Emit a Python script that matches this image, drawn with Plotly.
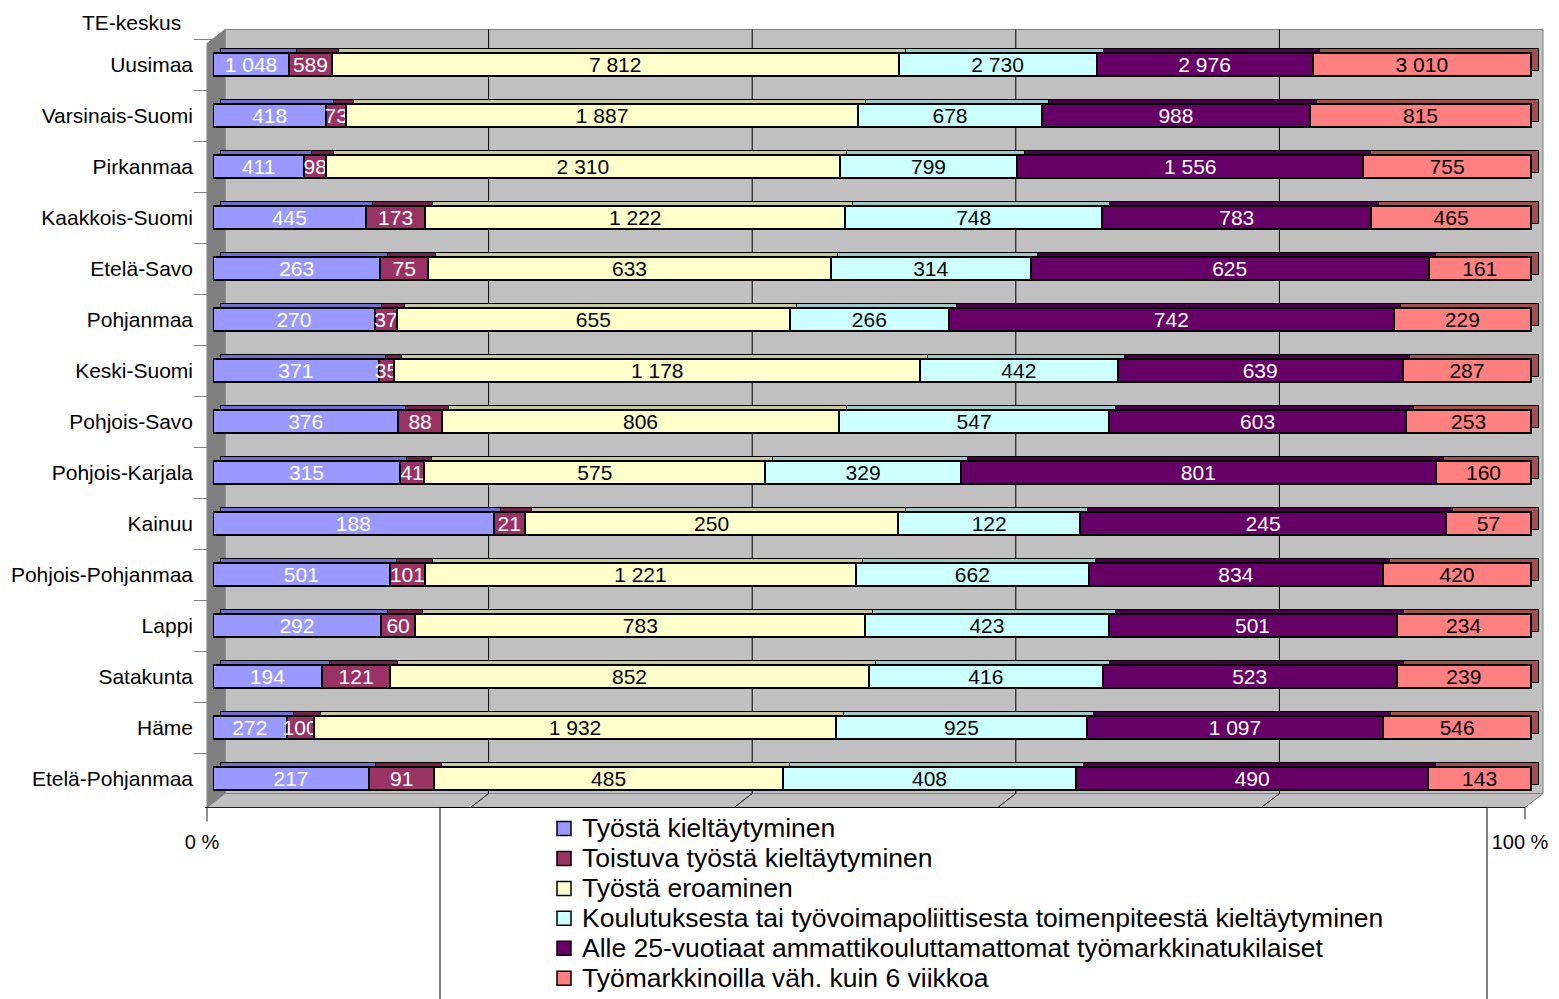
import plotly.graph_objects as go

# ---------------- data ----------------
regions = ["Uusimaa", "Varsinais-Suomi", "Pirkanmaa", "Kaakkois-Suomi", "Etelä-Savo",
           "Pohjanmaa", "Keski-Suomi", "Pohjois-Savo", "Pohjois-Karjala", "Kainuu",
           "Pohjois-Pohjanmaa", "Lappi", "Satakunta", "Häme", "Etelä-Pohjanmaa"]

series_names = ["Työstä kieltäytyminen",
                "Toistuva työstä kieltäytyminen",
                "Työstä eroaminen",
                "Koulutuksesta tai työvoimapoliittisesta toimenpiteestä kieltäytyminen",
                "Alle 25-vuotiaat ammattikouluttamattomat työmarkkinatukilaiset",
                "Työmarkkinoilla väh. kuin 6 viikkoa"]

tyosta_kieltaytyminen = [1048, 418, 411, 445, 263, 270, 371, 376, 315, 188, 501, 292, 194, 272, 217]
toistuva_kieltaytyminen = [589, 73, 98, 173, 75, 37, 35, 88, 41, 21, 101, 60, 121, 100, 91]
tyosta_eroaminen = [7812, 1887, 2310, 1222, 633, 655, 1178, 806, 575, 250, 1221, 783, 852, 1932, 485]
koulutuksesta_kieltaytyminen = [2730, 678, 799, 748, 314, 266, 442, 547, 329, 122, 662, 423, 416, 925, 408]
alle_25_vuotiaat = [2976, 988, 1556, 783, 625, 742, 639, 603, 801, 245, 834, 501, 523, 1097, 490]
tyomarkkinoilla_alle_6vk = [3010, 815, 755, 465, 161, 229, 287, 253, 160, 57, 420, 234, 239, 546, 143]

x_tick_values = [0, 100]
x_tick_labels = ["0 %", "100 %"]
axis_title = "TE-keskus"

series = [tyosta_kieltaytyminen, toistuva_kieltaytyminen, tyosta_eroaminen,
          koulutuksesta_kieltaytyminen, alle_25_vuotiaat, tyomarkkinoilla_alle_6vk]

# ---------------- styles ----------------
colors = ["#9999FF", "#993366", "#FFFFCC", "#CCFFFF", "#660066", "#FF8080"]
depth_colors = ["#7070CC", "#70244B", "#C8C8A0", "#A0C8C8", "#4A004A", "#A05050"]
text_colors = ["white", "white", "black", "black", "white", "black"]
FONT = "Liberation Sans"

# All layout positions below are in screen pixels of the 1559x999 window.
# The page body has an 8 px margin, so the figure is made 8 px smaller.
WIN_W, WIN_H, PAGE_OFF = 1559, 999, 8
FIG_W, FIG_H = WIN_W - PAGE_OFF, WIN_H - PAGE_OFF
W_L, W_R = 213, 1531          # px of 0 % and 100 % of the front bar faces
PL, PR = 213, 1548            # px of plot area (a bit wider for the 3-D end faces)
P_T, P_B = 38.5, 804.5        # px top / bottom of category band
DX, DY = 7, 5                 # 3-D depth of the bars in px
WALL_DX, WALL_DY = 18, 14     # 3-D depth of the walls in px
F_L, F_R, F_B, F_T = 207, 1525, 808, 43  # front plane edges
n_cat = len(regions)

x_max = 100 * (PR - PL) / (W_R - W_L)
d_x = DX / (W_R - W_L) * 100
d_y = DY / ((P_B - P_T) / n_cat)


def fmt(v):
    return f"{v:,}".replace(",", " ")


def px(x):
    return (x - PL) / (PR - PL)


def py(y):
    return (P_B - y) / (P_B - P_T)


fig = go.Figure()

# depth copies (top / side faces), drawn behind
for vals, dc in zip(series, depth_colors):
    fig.add_trace(go.Bar(
        y=regions, x=vals, orientation="h", width=0.44,
        marker=dict(color=dc, line=dict(color="black", width=1)),
        showlegend=False, hoverinfo="skip", xaxis="x", yaxis="y"))

# front faces
for vals, name, c, tc in zip(series, series_names, colors, text_colors):
    fig.add_trace(go.Bar(
        y=regions, x=vals, orientation="h", name=name, width=0.44,
        marker=dict(color=c, line=dict(color="black", width=2)),
        text=[fmt(v) for v in vals], textposition="inside",
        insidetextanchor="middle", textangle=0, constraintext="none",
        insidetextfont=dict(color=tc, size=21, family=FONT),
        hovertemplate="%{y}: %{text}<extra>" + name + "</extra>",
        xaxis="x2", yaxis="y2"))


# ---------------- decorations (3-D box) ----------------
def path(points):
    return "M " + " L ".join(f"{px(x):.5f},{py(y):.5f}" for x, y in points) + " Z"


shapes = []
back_l, back_r = F_L + WALL_DX, F_R + WALL_DX
back_t, back_b = F_T - WALL_DY, F_B - WALL_DY
# back wall
shapes.append(dict(type="rect", xref="paper", yref="paper", layer="below",
                   x0=px(back_l), x1=px(back_r), y0=py(back_b), y1=py(back_t),
                   fillcolor="#C0C0C0", line=dict(color="#808080", width=1)))
# left wall
shapes.append(dict(type="path", xref="paper", yref="paper", layer="below",
                   path=path([(F_L, F_T), (back_l, back_t), (back_l, back_b), (F_L, F_B)]),
                   fillcolor="#808080", line=dict(color="#808080", width=1)))
# floor
shapes.append(dict(type="path", xref="paper", yref="paper", layer="below",
                   path=path([(F_L, F_B), (back_l, back_b), (back_r, back_b), (F_R, F_B)]),
                   fillcolor="#C0C0C0", line=dict(color="#808080", width=1)))
# gridlines on back wall + floor
for frac in [0.2, 0.4, 0.6, 0.8]:
    gx = back_l + frac * (back_r - back_l)
    shapes.append(dict(type="line", xref="paper", yref="paper", layer="below",
                       x0=px(gx), x1=px(gx), y0=py(back_b), y1=py(back_t),
                       line=dict(color="black", width=1)))
    shapes.append(dict(type="line", xref="paper", yref="paper", layer="below",
                       x0=px(gx), x1=px(gx - WALL_DX), y0=py(back_b), y1=py(F_B),
                       line=dict(color="black", width=1)))
# floor front edge and end ticks
shapes.append(dict(type="line", xref="paper", yref="paper", layer="below",
                   x0=px(F_L - 2), x1=px(F_R), y0=py(F_B), y1=py(F_B),
                   line=dict(color="#202020", width=1)))
for tx, tl in [(F_L, 14), (F_R, 12)]:
    shapes.append(dict(type="line", xref="paper", yref="paper", layer="below",
                       x0=px(tx), x1=px(tx), y0=py(F_B), y1=py(F_B + tl),
                       line=dict(color="#202020", width=1)))

# ---------------- legend (boxed, drawn from the series names) ----------------
LEG_L, LEG_R, LEG_T = 440, 1487, F_B
SW_X, TXT_X, ROW0, ROW_H, SW = 557, 580, 829, 30, 14
shapes.append(dict(type="rect", xref="paper", yref="paper", layer="above",
                   x0=px(LEG_L), x1=px(LEG_R), y0=py(WIN_H + 10), y1=py(LEG_T),
                   fillcolor="rgba(0,0,0,0)", line=dict(color="black", width=1)))
annotations = [dict(text=axis_title, xref="paper", yref="paper",
                    x=px(183), y=py(22), xanchor="right", yanchor="middle",
                    showarrow=False, font=dict(size=21, family=FONT))]
for i, (name, c) in enumerate(zip(series_names, colors)):
    cy = ROW0 + i * ROW_H
    shapes.append(dict(type="rect", xref="paper", yref="paper", layer="above",
                       x0=px(SW_X), x1=px(SW_X + SW), y0=py(cy + SW / 2), y1=py(cy - SW / 2),
                       fillcolor=c, line=dict(color="black", width=1.5)))
    annotations.append(dict(text=name, xref="paper", yref="paper",
                            x=px(TXT_X), y=py(cy), xanchor="left", yanchor="middle",
                            showarrow=False, font=dict(size=26.5, family=FONT)))

fig.update_layout(
    width=FIG_W, height=FIG_H, autosize=False,
    margin=dict(l=PL - PAGE_OFF, r=(PAGE_OFF + FIG_W) - PR, t=P_T - PAGE_OFF,
                b=(PAGE_OFF + FIG_H) - P_B, pad=0, autoexpand=False),
    barmode="stack", barnorm="percent", showlegend=False,
    paper_bgcolor="white", plot_bgcolor="rgba(0,0,0,0)",
    font=dict(family=FONT, size=20, color="black"),
    xaxis=dict(range=[-d_x, x_max - d_x], visible=False, fixedrange=True),
    yaxis=dict(type="category", categoryorder="array", categoryarray=regions,
               range=[n_cat - 0.5 + d_y, -0.5 + d_y], visible=False, fixedrange=True),
    xaxis2=dict(overlaying="x", anchor="y2", side="bottom", range=[0, x_max],
                tickmode="array", tickvals=x_tick_values, ticktext=x_tick_labels,
                showgrid=False, zeroline=False, showline=False, ticks="",
                ticklabelshift=-11, ticklabelstandoff=24,
                tickfont=dict(size=20, family=FONT), fixedrange=True),
    yaxis2=dict(overlaying="y", anchor="x2", side="left", type="category",
                categoryorder="array", categoryarray=regions,
                range=[n_cat - 0.5, -0.5], showgrid=False, zeroline=False,
                showline=False, ticks="outside", tickson="boundaries",
                ticklen=18, tickcolor="#808080", tickwidth=1,
                ticklabelstandoff=19,
                tickfont=dict(size=21, family=FONT), fixedrange=True),
    shapes=shapes,
    annotations=annotations,
)

fig.write_html("out.html")
